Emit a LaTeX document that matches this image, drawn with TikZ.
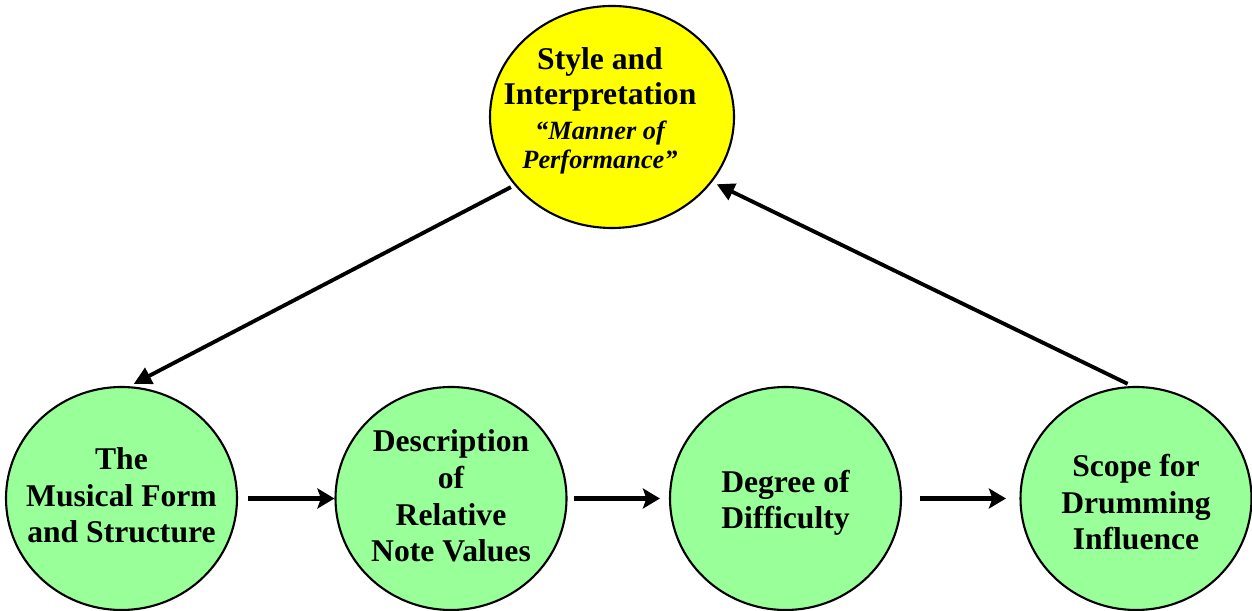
\documentclass[tikz,border=0pt]{standalone}
\usepackage{fontspec}
\setmainfont{Liberation Serif}
\usepackage{xcolor}
\usetikzlibrary{shapes.geometric, arrows.meta, positioning, calc}

\definecolor{ballgreen}{RGB}{153,255,153}
\definecolor{ballyellow}{RGB}{255,255,0}

\begin{document}
\begin{tikzpicture}[
    ball/.style={draw, ellipse, line width=1.2pt, inner sep=0pt, fill=ballgreen, minimum width=4.62cm, minimum height=4.46cm},
    balltext/.style={align=center, font=\fontsize{18}{20.8}\selectfont\bfseries},
    flowarrow/.style={line width=2.8pt, -{Stealth[length=9.7pt, width=11.4pt, inset=2pt]}},
    returnarrow/.style={line width=2.2pt, -{Triangle[length=10pt, width=10pt]}}
]
    \useasboundingbox (0,0) rectangle (25.04,12.22);

    % Top circle
    \node (style) [draw, ellipse, line width=1.2pt, inner sep=0pt, fill=ballyellow, minimum width=4.88cm, minimum height=4.44cm] at (12.24, 9.88) {};
    \node (style_txt) [align=center, font=\fontsize{18}{19.9}\selectfont\bfseries] at ([xshift=-0.24cm, yshift=0.13cm]style.center) {Style and\\Interpretation\\{\fontsize{15}{16}\selectfont\itshape “Manner of}\\[-3.4pt]{\fontsize{15}{16}\selectfont\itshape Performance”}};

    % Bottom row
    \node (form) [ball] at (2.43, 2.25) {};
    \node (desc) [ball] at (9.02, 2.25) {};
    \node (diff) [ball] at (15.71, 2.25) {};
    \node (drum) [ball] at (22.72, 2.25) {};

    \node (form_txt) [balltext] at ([yshift=0.06cm]form.center) {The\\Musical Form\\and Structure};
    \node (desc_txt) [balltext] at ([yshift=0.05cm]desc.center) {Description\\of\\Relative\\Note Values};
    \node (diff_txt) [balltext] at ([yshift=-0.09cm]diff.center) {Degree of\\Difficulty};
    \node (drum_txt) [balltext] at ([yshift=-0.08cm]drum.center) {Scope for\\Drumming\\Influence};

    % Arrows
    \draw [flowarrow, shorten <=0.2cm] (form) -- (desc);
    \draw [flowarrow, shorten <=0.13cm, shorten >=0.18cm] (desc) -- (diff);
    \draw [flowarrow, shorten <=0.36cm, shorten >=0.27cm] (diff) -- (drum);

    \draw [returnarrow, shorten <=0.08cm, shorten >=0.1cm] (style.215) -- (form.86);
    \draw [returnarrow, shorten <=0.1cm, shorten >=0.1cm] (drum.92) -- (style.327);
\end{tikzpicture}
\end{document}
